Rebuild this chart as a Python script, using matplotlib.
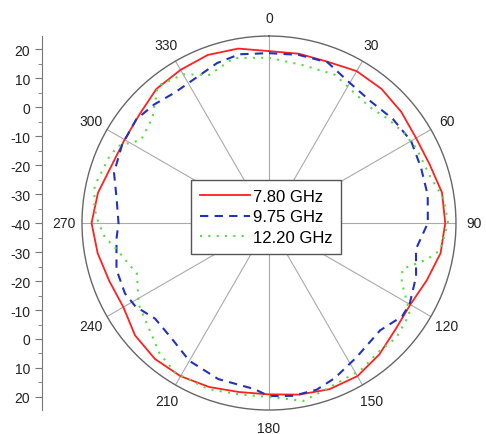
import numpy as np
import matplotlib
matplotlib.use("Agg")
from matplotlib import pyplot as plt
from matplotlib.ticker import MultipleLocator, FuncFormatter

plt.rcParams["font.family"] = ["Liberation Sans", "DejaVu Sans"]

# -------- data (angle in degrees, gain in dB) --------
ang_780 = [0, 10, 20, 30, 40, 50, 60, 70, 80, 90, 100, 110, 120, 130, 140, 150, 160, 170,
           180, 190, 200, 210, 220, 230, 240, 250, 260, 270, 280, 290, 300, 310, 320, 330,
           340, 350, 360]
db_780 = [19.3, 19.3, 19.2, 20.5, 20.4, 19.6, 18.6, 19.0, 20.6, 20.8, 20.1, 17.9, 16.3, 17.0,
          19.2, 21.0, 21.0, 20.1, 19.1, 19.2, 20.2, 21.0, 21.2, 20.3, 18.0, 18.6, 20.0, 21.2,
          19.9, 17.8, 17.5, 18.3, 20.4, 21.0, 21.7, 21.1, 19.3]

ang_975 = [0, 10, 20, 30, 40, 50, 60, 70, 80, 90, 100, 110, 120, 125, 134, 147, 157, 164,
           172, 180, 185, 198, 210, 220, 230, 238, 244, 253, 264, 270, 279, 288, 298, 308,
           316, 324, 336, 342, 350, 360]
db_975 = [18.6, 18.9, 19.0, 15.8, 14.7, 15.8, 16.6, 15.8, 15.6, 14.8, 11.5, 14.0, 16.0, 16.1,
          13.3, 15.3, 18.1, 19.8, 20.2, 19.7, 17.5, 16.6, 14.9, 12.1, 11.3, 14.3, 15.3, 15.0,
          12.9, 11.9, 13.2, 16.2, 17.4, 18.1, 16.9, 15.5, 16.5, 18.0, 19.1, 18.6]

ang_1220 = [0, 12, 24, 32, 41, 49, 56, 63, 74, 82, 90, 99, 103, 109, 114, 120, 123, 132, 139,
            148, 163, 169, 180, 190, 200, 212, 220, 238, 249, 256, 261, 265, 270, 275, 282,
            292, 297, 303, 312, 321, 330, 338, 348, 360]
db_1220 = [17.0, 15.7, 16.0, 13.9, 13.0, 14.6, 15.9, 17.0, 17.9, 20.8, 21.8, 19.8, 15.9, 8.7,
           10.1, 15.1, 17.8, 19.1, 18.3, 19.8, 21.0, 22.5, 20.0, 20.0, 21.0, 20.9, 18.7, 13.0,
           8.8, 11.3, 13.8, 16.8, 18.8, 20.5, 21.5, 19.7, 18.5, 12.6, 14.1, 20.9, 19.2, 15.1,
           18.2, 17.0]

labels = ["7.80 GHz", "9.75 GHz", "12.20 GHz"]
r_min, r_max = -40, 24.5

fig = plt.figure(figsize=(4.86, 4.35), dpi=100)
ax = fig.add_axes([0.1687, 0.0551, 0.7695, 0.8598], projection="polar")
ax.set_theta_zero_location("N")
ax.set_theta_direction(-1)
ax.set_ylim(r_min, r_max)

ax.plot(np.deg2rad(ang_780), db_780, color="#ff2020", lw=1.3, label=labels[0])
ax.plot(np.deg2rad(ang_975), db_975, color="#2233bb", lw=1.5, ls=(0, (4, 3)), label=labels[1])
ax.plot(np.deg2rad(ang_1220), db_1220, color="#55dd44", lw=1.5, ls=(0, (1, 3)), label=labels[2])

ax.set_xticks(np.deg2rad(np.arange(0, 360, 30)))
ax.set_xticklabels([str(a) for a in range(0, 360, 30)], fontsize=10, color="#222222")
ax.set_xticks(np.deg2rad(np.arange(15, 360, 30)), minor=True)
ax.tick_params(axis="x", which="major", direction="in", length=7, pad=6, color="#444444")
ax.tick_params(axis="x", which="minor", direction="in", length=4, color="#444444")
ax.set_yticks([])
ax.grid(True, axis="x", color="#aaaaaa", lw=0.8)
ax.grid(False, axis="y")
ax.spines["polar"].set_color("#666666")
ax.spines["polar"].set_linewidth(1.0)

leg = ax.legend(loc="center", bbox_to_anchor=(266 / 486, 1 - 218 / 435),
                bbox_transform=fig.transFigure, fontsize=12, frameon=True,
                fancybox=False, framealpha=1, edgecolor="#555555",
                handlelength=3.0, handletextpad=0.2, borderpad=0.5, labelspacing=0.35)
leg.get_frame().set_linewidth(1.0)

# -------- left radial scale --------
lax = fig.add_axes([42 / 486, 0.0551, 0.001, 0.8598])
span = r_max - r_min
lax.set_ylim(-span, span)
lax.set_xticks([])
for s in ["top", "right", "bottom"]:
    lax.spines[s].set_visible(False)
lax.spines["left"].set_color("#777777")
lax.yaxis.set_major_locator(MultipleLocator(10))
lax.yaxis.set_minor_locator(MultipleLocator(5))
lax.yaxis.set_major_formatter(FuncFormatter(lambda v, p: f"{int(round(abs(v) + r_min))}"))
lax.tick_params(axis="y", which="major", length=5, labelsize=10, color="#777777",
                labelcolor="#222222")
lax.tick_params(axis="y", which="minor", length=3, color="#777777")

fig.savefig("out.png", dpi=100)
